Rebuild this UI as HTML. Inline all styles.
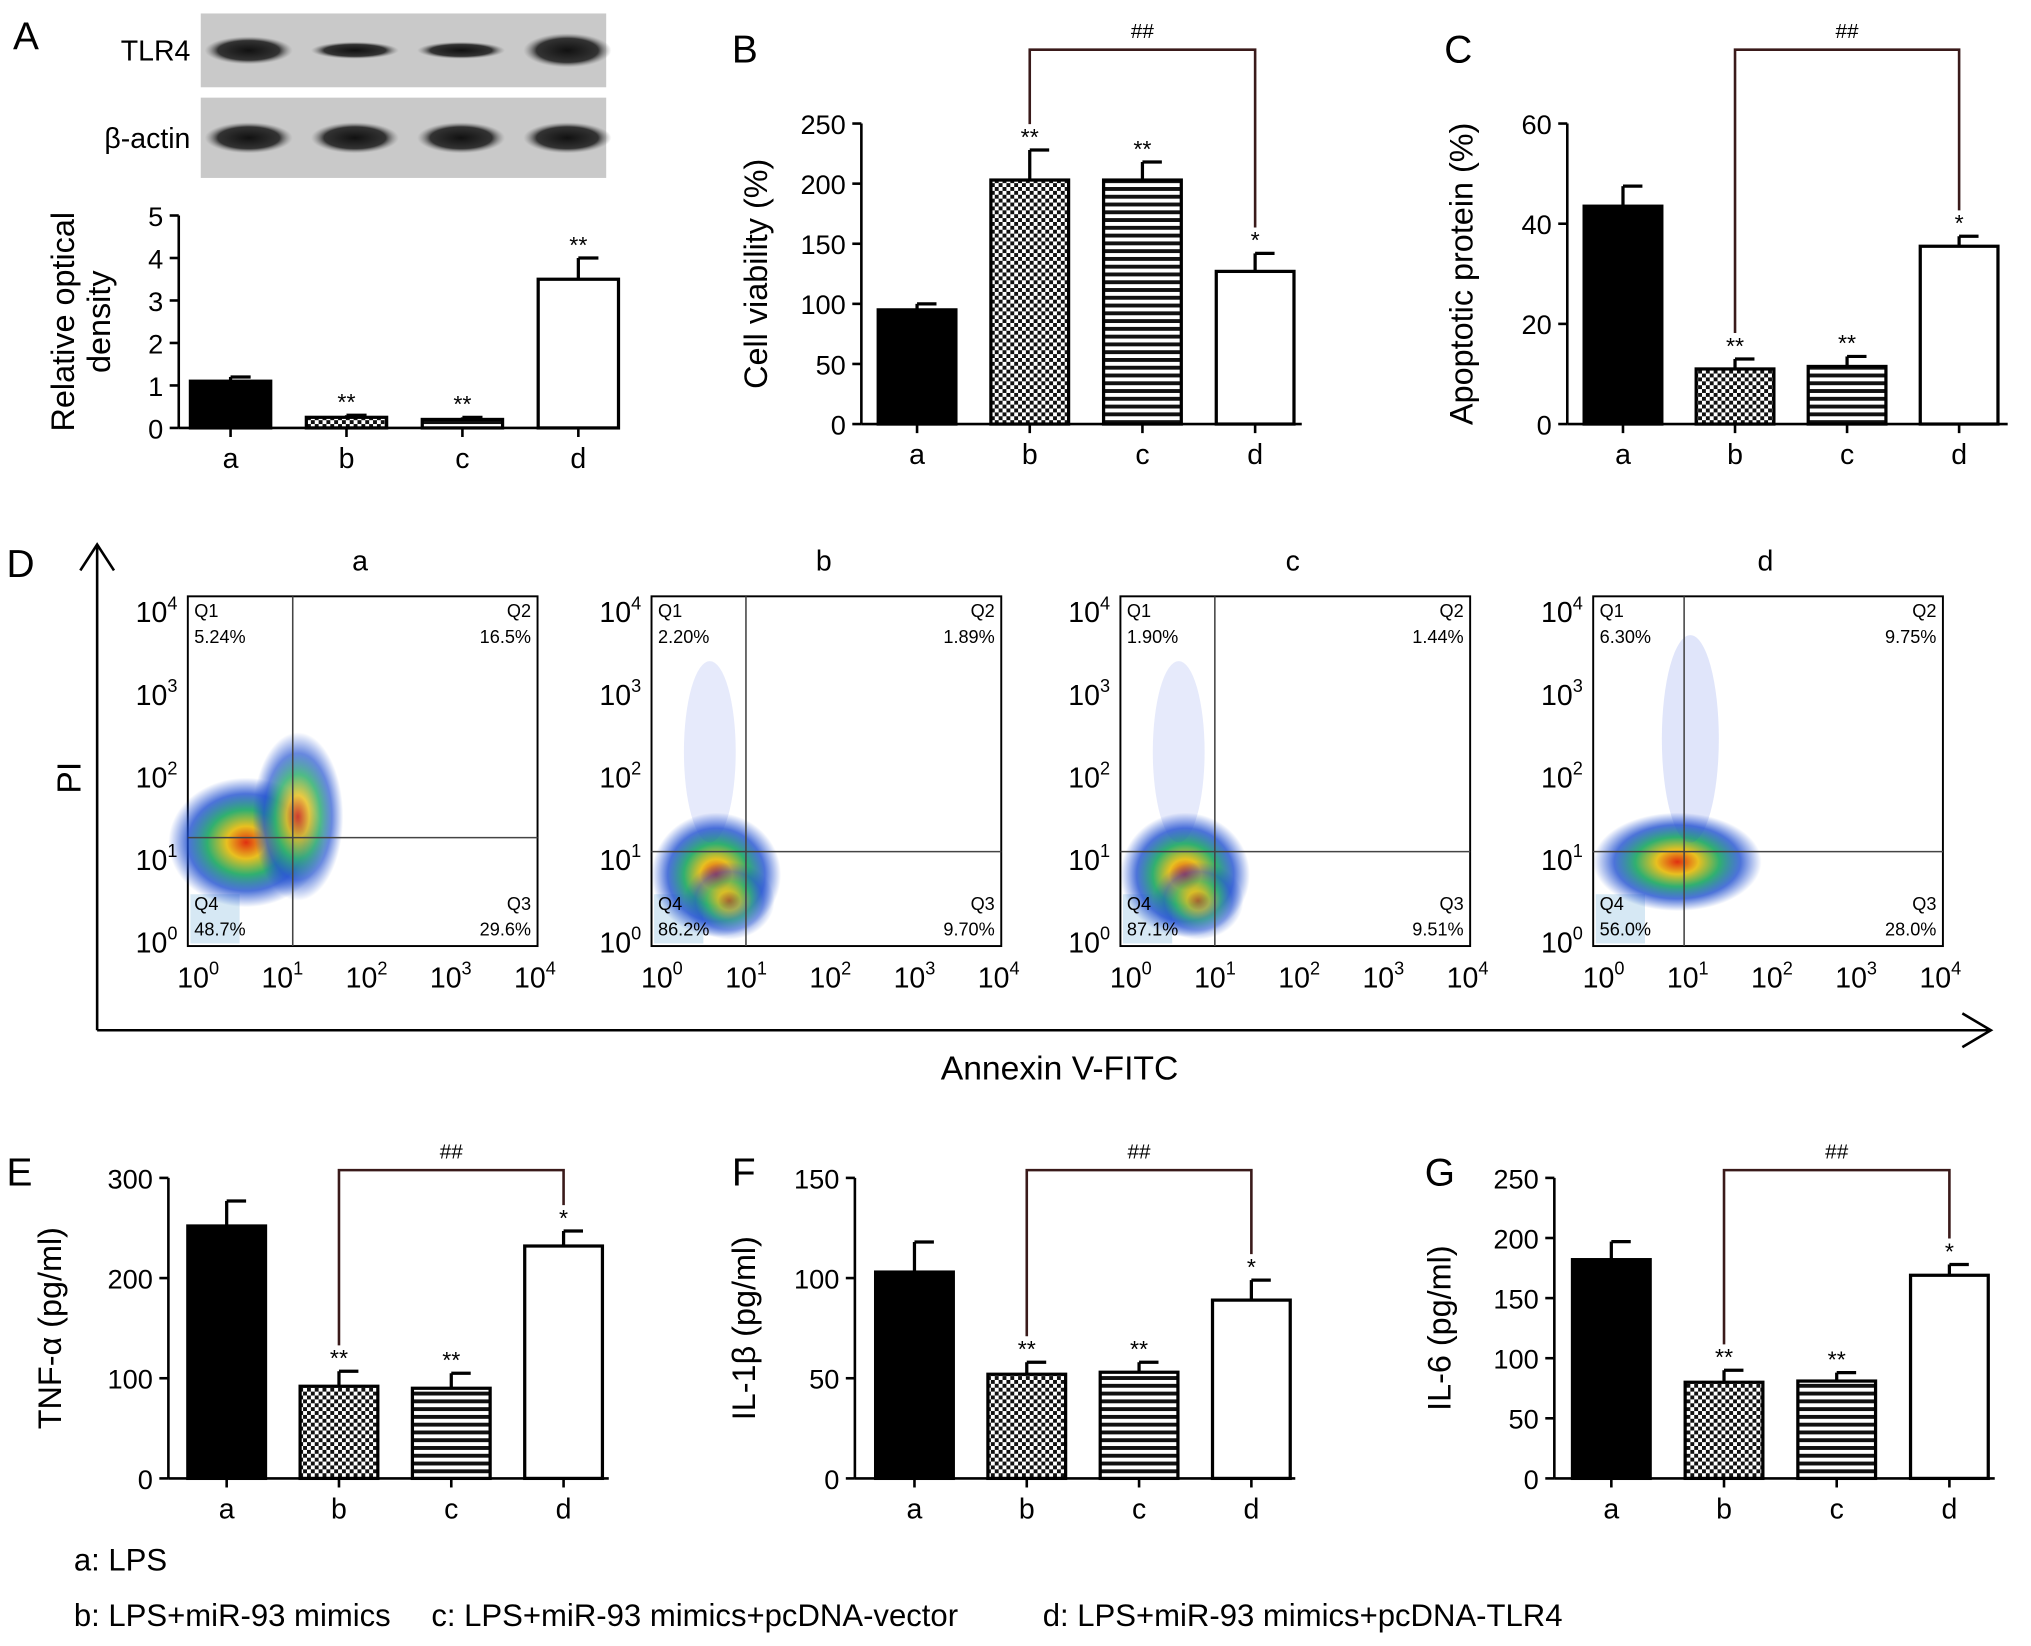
<!DOCTYPE html>
<html><head><meta charset="utf-8"><style>
html,body{margin:0;padding:0;background:#fff}
svg{display:block;font-family:"Liberation Sans",sans-serif}
</style></head><body>
<svg id="fig" width="2031" height="1646" viewBox="0 0 1568 1270" xmlns="http://www.w3.org/2000/svg">
<defs>
<pattern id="chk" width="6" height="6" patternUnits="userSpaceOnUse"><rect width="6" height="6" fill="#fff"/><rect width="3" height="3" fill="#111"/><rect x="3" y="3" width="3" height="3" fill="#111"/></pattern>
<pattern id="hl" width="6" height="6" patternUnits="userSpaceOnUse"><rect width="6" height="6" fill="#fff"/><rect width="6" height="3" fill="#111"/></pattern>
<radialGradient id="blob"><stop offset="0" stop-color="#e03010"/><stop offset="0.25" stop-color="#e8c020"/><stop offset="0.5" stop-color="#30b070"/><stop offset="0.75" stop-color="#2050d0" stop-opacity="0.8"/><stop offset="1" stop-color="#2050d0" stop-opacity="0"/></radialGradient>
<radialGradient id="band"><stop offset="0" stop-color="#111"/><stop offset="0.7" stop-color="#333"/><stop offset="1" stop-color="#888" stop-opacity="0"/></radialGradient>
</defs>
<g id="root"></g>
</svg>
<script>
const cats=['a','b','c','d'];
const valsA=[1.1,0.25,0.2,3.5], errA=[0.1,0.05,0.05,0.5], sigA=['','**','**','**'];
const valsB=[95,203,203,127], errB=[5,25,15,15], sigB=['','**','**','*'];
const valsC=[43.5,11,11.5,35.5], errC=[4,2,2,2], sigC=['','**','**','*'];
const valsE=[252,92,90,232], errE=[25,15,15,15], sigE=['','**','**','*'];
const valsF=[103,52,53,89], errF=[15,6,5,10], sigF=['','**','**','*'];
const valsG=[182,80,81,169], errG=[15,10,7,9], sigG=['','**','**','*'];
const ticksA=[0,1,2,3,4,5], ticksB=[0,50,100,150,200,250], ticksC=[0,20,40,60];
const ticksE=[0,100,200,300], ticksF=[0,50,100,150], ticksG=[0,50,100,150,200,250];
const flowNames=['a','b','c','d'];
const q1=['5.24%','2.20%','1.90%','6.30%'], q2=['16.5%','1.89%','1.44%','9.75%'];
const q3=['29.6%','9.70%','9.51%','28.0%'], q4=['48.7%','86.2%','87.1%','56.0%'];
const NS='http://www.w3.org/2000/svg';
const root=document.getElementById('root');
function el(tag,attrs,parent,text){const e=document.createElementNS(NS,tag);for(const k in attrs)e.setAttribute(k,attrs[k]);if(text!==undefined)e.textContent=text;(parent||root).appendChild(e);return e;}
const fills=['#000','url(#chk)','url(#hl)','#fff'];
function bar(p){
 const g=el('g',{});
 
 
 const max=p.ticks[p.ticks.length-1];
 const y=v=>p.y0-(v/max)*(p.y0-p.ytop);
 const x=i=>p.x0+p.first+i*p.step;
 el('line',{x1:p.x0,y1:p.ytop,x2:p.x0,y2:p.y0,stroke:'#000','stroke-width':2},g);
 el('line',{x1:p.x0,y1:p.y0,x2:p.x1,y2:p.y0,stroke:'#000','stroke-width':2},g);
 p.ticks.forEach(t=>{el('line',{x1:p.x0-7,y1:y(t),x2:p.x0,y2:y(t),stroke:'#000','stroke-width':2},g);
  const tl=el('text',{x:p.x0-12,y:y(t)+8,'font-size':21,'text-anchor':'end'},g,t);
  
  });
 cats.forEach((c,i)=>{const v=p.vals[i],e=p.err[i],cx=x(i),w=p.bw;
  el('line',{x1:cx,y1:y(v),x2:cx,y2:y(v+e),stroke:'#000','stroke-width':2.5},g);
  el('line',{x1:cx,y1:y(v+e),x2:cx+w/4,y2:y(v+e),stroke:'#000','stroke-width':2.5},g);
  const r=el('rect',{x:cx-w/2,y:y(v),width:w,height:p.y0-y(v),fill:fills[i],stroke:'#000','stroke-width':2.5},g);
  
  
  el('line',{x1:cx,y1:p.y0,x2:cx,y2:p.y0+7,stroke:'#000','stroke-width':2},g);
  el('text',{x:cx,y:p.y0+31,'font-size':22,'text-anchor':'middle'},g,c);
  if(p.sig[i])el('text',{x:cx,y:y(v+e)-4,'font-size':18,'text-anchor':'middle'},g,p.sig[i]);});
 if(p.bracket){const bx1=x(1),bx2=x(3),by=p.bracket;
  el('polyline',{points:`${bx1},${y(p.vals[1]+p.err[1])-20} ${bx1},${by} ${bx2},${by} ${bx2},${y(p.vals[3]+p.err[3])-20}`,fill:'none',stroke:'#3a1a1a','stroke-width':2},g);
  el('text',{x:(bx1+bx2)/2,y:by-9,'font-size':16,'text-anchor':'middle'},g,'##');}
 const yl=el('text',{x:0,y:0,'font-size':25,'text-anchor':'middle',transform:`translate(${p.ylx},${(p.y0+p.ytop)/2}) rotate(-90)`},g);
 p.ylabel.forEach((t,k)=>el('tspan',{x:0,dy:k?28:0},yl,t));
 
 
 el('text',{x:p.lx,y:p.ly,'font-size':30},g,p.letter);
}
bar({name:'chart-a',x0:138,x1:475,y0:330,ytop:166,ticks:ticksA,vals:valsA,err:errA,sig:sigA,first:40,step:89.5,bw:62,ylabel:['Relative optical','density'],ylx:57,letter:'A',lx:10,ly:38});
bar({name:'chart-b',x0:665,x1:1005,y0:327,ytop:95,ticks:ticksB,vals:valsB,err:errB,sig:sigB,first:43,step:87,bw:60,ylabel:['Cell viability (%)'],ylx:592,letter:'B',lx:565,ly:48,bracket:38});
bar({name:'chart-c',x0:1210,x1:1550,y0:327,ytop:95,ticks:ticksC,vals:valsC,err:errC,sig:sigC,first:43,step:86.5,bw:60,ylabel:['Apoptotic protein (%)'],ylx:1137,letter:'C',lx:1115,ly:48,bracket:38});
bar({name:'chart-e',x0:130,x1:470,y0:1141,ytop:909,ticks:ticksE,vals:valsE,err:errE,sig:sigE,first:45,step:86.7,bw:60,ylabel:['TNF-α (pg/ml)'],ylx:47,letter:'E',lx:5,ly:915,bracket:903});
bar({name:'chart-f',x0:660,x1:1000,y0:1141,ytop:909,ticks:ticksF,vals:valsF,err:errF,sig:sigF,first:46,step:86.7,bw:60,ylabel:['IL-1β (pg/ml)'],ylx:583,letter:'F',lx:565,ly:915,bracket:903});
bar({name:'chart-g',x0:1200,x1:1540,y0:1141,ytop:909,ticks:ticksG,vals:valsG,err:errG,sig:sigG,first:44,step:87,bw:60,ylabel:['IL-6 (pg/ml)'],ylx:1120,letter:'G',lx:1100,ly:915,bracket:903});

// western blot
const wb=el('g',{});


[[10,67,'TLR4',[0.9,0.55,0.55,1.1]],[75,137,'β-actin',[1,1,1,1]]].forEach(r=>{
 el('rect',{x:155,y:r[0],width:313,height:r[1]-r[0],fill:'#c9c9c9'},wb);
 el('text',{x:147,y:(r[0]+r[1])/2+8,'font-size':22,'text-anchor':'end'},wb,r[2]);
 r[3].forEach((s,i)=>el('ellipse',{cx:192+i*82,cy:(r[0]+r[1])/2,rx:34,ry:12*s,fill:'url(#band)'},wb));
});

// flow panel
const fp=el('g',{});


el('text',{x:5,y:445,'font-size':30},fp,'D');
el('line',{x1:75,y1:795,x2:75,y2:422,stroke:'#000','stroke-width':2},fp);
el('polyline',{points:'62,440 75,420 88,440',fill:'none',stroke:'#000','stroke-width':2},fp);
el('line',{x1:75,y1:795,x2:1535,y2:795,stroke:'#000','stroke-width':2},fp);
el('polyline',{points:'1515,782 1537,795 1515,808',fill:'none',stroke:'#000','stroke-width':2},fp);
el('text',{x:0,y:0,'font-size':26,'text-anchor':'middle',transform:'translate(62,600) rotate(-90)'},fp,'PI');
el('text',{x:818,y:833,'font-size':26,'text-anchor':'middle'},fp,'Annexin V-FITC');
const fx=[145,503,865,1230], qx=[0.3,0.27,0.27,0.26], qy=[0.69,0.73,0.73,0.73];
flowNames.forEach((n,i)=>{
 const x0=fx[i],y0=460,w=270,h=270;
 const g=el('g',{},fp);
 
 
 el('text',{x:x0+w/2-2,y:440,'font-size':22,'text-anchor':'middle'},g,n);
 el('rect',{x:x0,y:y0,width:w,height:h,fill:'#fff',stroke:'#000','stroke-width':1.5},g);
 el('rect',{x:x0+2,y:y0+h-40,width:38,height:38,fill:'#d6e8f4'},g);
 if(i==0){el('ellipse',{cx:x0+45,cy:y0+190,rx:60,ry:50,fill:'url(#blob)'},g);el('ellipse',{cx:x0+85,cy:y0+170,rx:35,ry:65,fill:'url(#blob)',opacity:0.85},g);}
 else if(i==3){el('ellipse',{cx:x0+65,cy:y0+205,rx:65,ry:38,fill:'url(#blob)'},g);el('ellipse',{cx:x0+75,cy:y0+110,rx:22,ry:80,fill:'#3050e0',opacity:0.15},g);}
 else{el('ellipse',{cx:x0+50,cy:y0+215,rx:50,ry:48,fill:'url(#blob)'},g);el('ellipse',{cx:x0+60,cy:y0+235,rx:35,ry:30,fill:'url(#blob)',opacity:0.6},g);el('ellipse',{cx:x0+45,cy:y0+120,rx:20,ry:70,fill:'#3050e0',opacity:0.12},g);}
 el('line',{x1:x0+w*qx[i],y1:y0,x2:x0+w*qx[i],y2:y0+h,stroke:'#444','stroke-width':1.2},g);
 el('line',{x1:x0,y1:y0+h*qy[i],x2:x0+w,y2:y0+h*qy[i],stroke:'#444','stroke-width':1.2},g);
 el('text',{x:x0+5,y:y0+16,'font-size':14},g,'Q1');
 el('text',{x:x0+5,y:y0+36,'font-size':14},g,q1[i]);
 el('text',{x:x0+w-5,y:y0+16,'font-size':14,'text-anchor':'end'},g,'Q2');
 el('text',{x:x0+w-5,y:y0+36,'font-size':14,'text-anchor':'end'},g,q2[i]);
 el('text',{x:x0+w-5,y:y0+h-28,'font-size':14,'text-anchor':'end'},g,'Q3');
 el('text',{x:x0+w-5,y:y0+h-8,'font-size':14,'text-anchor':'end'},g,q3[i]);
 el('text',{x:x0+5,y:y0+h-28,'font-size':14},g,'Q4');
 el('text',{x:x0+5,y:y0+h-8,'font-size':14},g,q4[i]);
 for(let k=0;k<5;k++){
  const ty=y0+h-5-k*(h-15)/4;
  const t=el('text',{x:x0-8,y:ty+10,'font-size':22,'text-anchor':'end'},g,'10');
  el('tspan',{dy:-10,'font-size':14},t,k);
  const tx=x0+10+k*(w-10)/4;
  const t2=el('text',{x:tx-2,y:y0+h+32,'font-size':22,'text-anchor':'middle'},g,'10');
  el('tspan',{dy:-10,'font-size':14},t2,k);
 }
});

// legend
const lg=el('g',{});


el('text',{x:57,y:1212,'font-size':24},lg,'a: LPS');
el('text',{x:57,y:1255,'font-size':24},lg,'b: LPS+miR-93 mimics');
el('text',{x:333,y:1255,'font-size':24},lg,'c: LPS+miR-93 mimics+pcDNA-vector');
el('text',{x:805,y:1255,'font-size':24},lg,'d: LPS+miR-93 mimics+pcDNA-TLR4');
</script>
</body></html>
